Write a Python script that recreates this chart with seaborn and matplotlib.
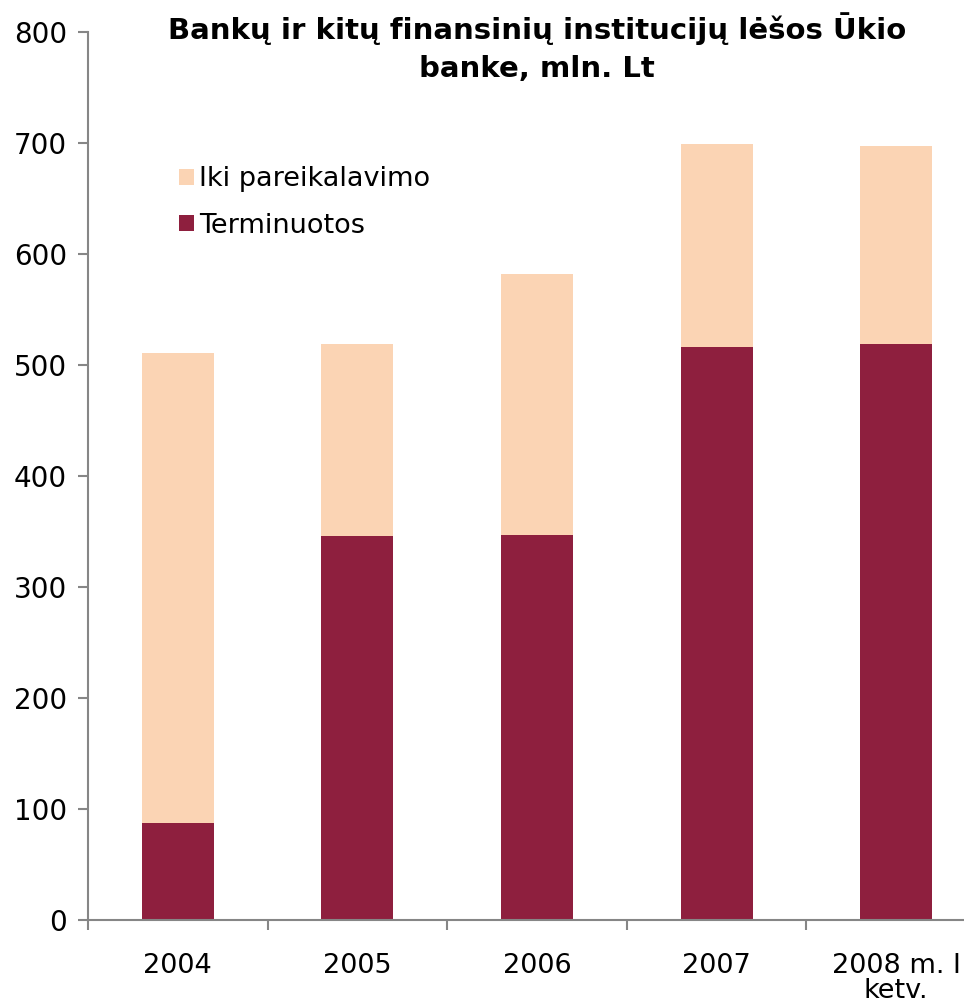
import numpy as np
import pandas as pd
import seaborn as sns
import matplotlib.pyplot as plt
from matplotlib.patches import Patch
from matplotlib.ticker import FixedLocator

# Data (mln. Lt)
years = ["2004", "2005", "2006", "2007", "2008 m. I\nketv."]
terminuotos = [87, 346, 347, 516, 519]
iki_pareikalavimo = [424, 173, 235, 183, 178]

light = "#FBD4B4"
dark = "#8E1F3E"
axis_gray = "#868686"

df = pd.DataFrame({
    "Metai": years,
    "Terminuotos": terminuotos,
    "Iki pareikalavimo": iki_pareikalavimo,
})
df["Viso"] = df["Terminuotos"] + df["Iki pareikalavimo"]

sns.set_theme(style="white")
plt.rcParams["font.family"] = ["DejaVu Sans"]
plt.rcParams["text.color"] = "black"

fig = plt.figure(figsize=(9.64, 10.05), dpi=100)
ax = fig.add_axes([0.0913, 0.0846, 0.9315, 0.8836])

# stacked bars: total in light colour, fixed-term part drawn over it
sns.barplot(data=df, x="Metai", y="Viso", color=light, width=0.40,
            saturation=1, linewidth=0, ax=ax)
sns.barplot(data=df, x="Metai", y="Terminuotos", color=dark, width=0.40,
            saturation=1, linewidth=0, ax=ax)

ax.set_xlim(-0.5, len(years) - 0.5)
ax.set_ylim(0, 800)
ax.set_yticks(np.arange(0, 801, 100))
ax.set_xlabel("")
ax.set_ylabel("")

for side in ["top", "right"]:
    ax.spines[side].set_visible(False)
for side in ["left", "bottom"]:
    ax.spines[side].set_color(axis_gray)
    ax.spines[side].set_linewidth(1.5)

ax.tick_params(axis="y", direction="out", length=7, width=1.5, color=axis_gray,
               labelsize=20, labelcolor="black", pad=8, left=True)
ax.tick_params(axis="x", which="major", length=0, labelsize=19.5,
               labelcolor="black", pad=24)
ax.xaxis.set_minor_locator(FixedLocator(np.arange(-0.5, len(years), 1.0)))
ax.tick_params(axis="x", which="minor", direction="out", length=7, width=1.5,
               color=axis_gray, bottom=True)
for lbl in ax.get_xticklabels():
    lbl.set_linespacing(0.95)

ax.set_title("Bankų ir kitų finansinių institucijų lėšos Ūkio\nbanke, mln. Lt",
             fontsize=21, fontweight="bold", color="black", x=0.5, y=0.94,
             linespacing=1.45)

handles = [Patch(facecolor=light, edgecolor="none", label="Iki pareikalavimo"),
           Patch(facecolor=dark, edgecolor="none", label="Terminuotos")]
ax.legend(handles=handles, loc="upper left", bbox_to_anchor=(0.074, 0.876),
          frameon=False, fontsize=19.5, handlelength=0.55, handleheight=0.55,
          handletextpad=0.2, labelspacing=0.75)

fig.savefig("out.png", dpi=100)
